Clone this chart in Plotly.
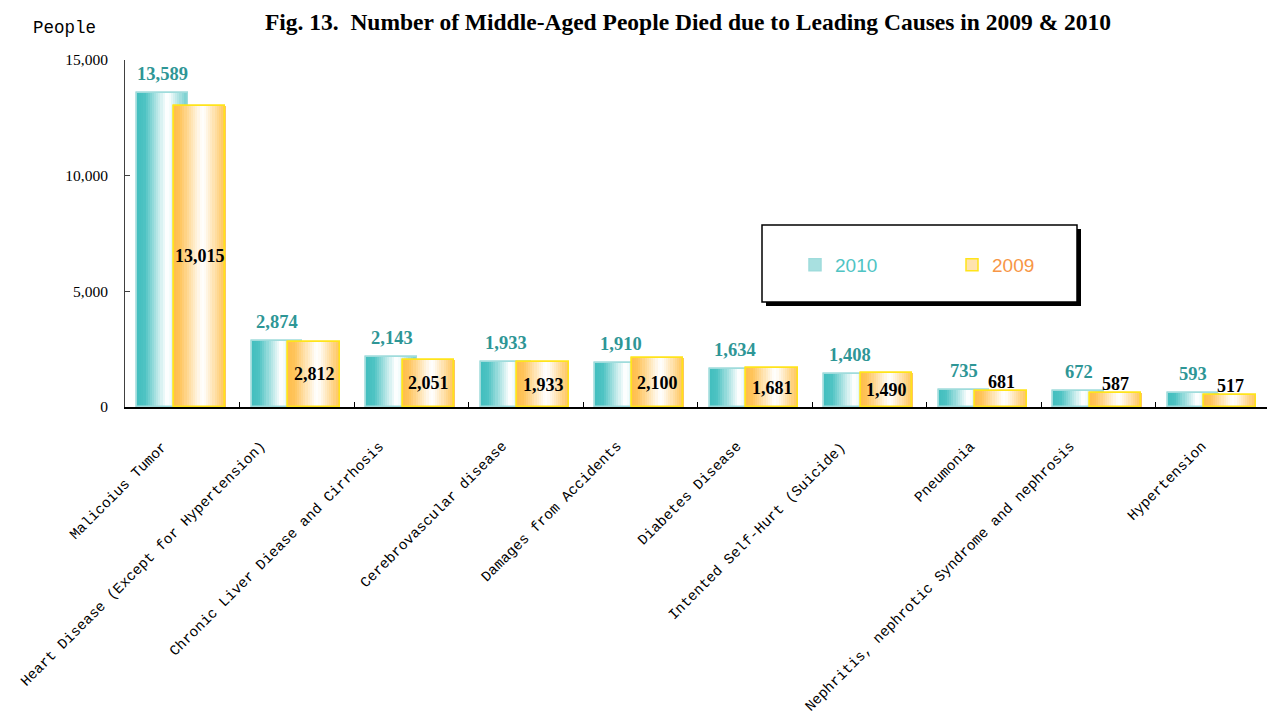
import plotly.graph_objects as go

categories = [
    "Malicoius Tumor",
    "Heart Disease (Except for Hypertension)",
    "Chronic Liver Diease and Cirrhosis",
    "Cerebrovascular disease",
    "Damages from Accidents",
    "Diabetes Disease",
    "Intented Self-Hurt (Suicide)",
    "Pneumonia",
    "Nephritis, nephrotic Syndrome and nephrosis",
    "Hypertension",
]
deaths_2010 = [13589, 2874, 2143, 1933, 1910, 1634, 1408, 735, 672, 593]
deaths_2009 = [13015, 2812, 2051, 1933, 2100, 1681, 1490, 681, 587, 517]
y_ticks = [0, 5000, 10000, 15000]

# layout style: horizontal pixel shift of each rotated category label (as in the original)
label_xshift = [-19, -35, -31, -23, -23, -18, -27, -12, -28, -10]

# The page body has an 8px default margin; figure coords = screen coords - 8
PAGE = 8
W, H = 1275 - PAGE, 713 - PAGE
X0, X1 = 125, 1270          # screen x of plot area
Y0, Y1 = 60, 407            # screen y of plot area (top, bottom)
L, T = X0 - PAGE, Y0 - PAGE
R = W - (X1 - PAGE)
B = H - (Y1 - PAGE)
plot_w = X1 - X0
plot_h = Y1 - Y0

xpos = list(range(len(categories)))

def lerp(c1, c2, f):
    return tuple(c1[i] + (c2[i] - c1[i]) * f for i in range(3))

def grad(stops, t):
    for (t0, c0), (t1, c1) in zip(stops, stops[1:]):
        if t0 <= t <= t1:
            f = (t - t0) / (t1 - t0) if t1 > t0 else 0
            c = lerp(c0, c1, f)
            return "rgb(%d,%d,%d)" % tuple(round(v) for v in c)
    c = stops[-1][1]
    return "rgb(%d,%d,%d)" % c

teal_stops = [(0.0, (66, 190, 190)), (0.15, (78, 195, 195)), (0.57, (255, 255, 255)),
              (0.63, (250, 254, 254)), (1.0, (104, 202, 202))]
orange_stops = [(0.0, (255, 190, 76)), (0.12, (255, 196, 90)), (0.54, (255, 255, 255)),
                (0.6, (255, 252, 246)), (1.0, (255, 194, 84))]

series = [
    dict(name="2010", vals=deaths_2010, off=-0.395, w=0.445, stops=teal_stops,
         border="#9FDCDC", legend_fill="#A8E0E0", legend_txt="#4FC4C4"),
    dict(name="2009", vals=deaths_2009, off=-0.075, w=0.452, stops=orange_stops,
         border="#FFE41A", legend_fill="#FFE2AE", legend_txt="#F79646"),
]

N = 24
fig = go.Figure()
for s in series:
    # base bar (carries legend entry)
    fig.add_trace(go.Bar(
        x=xpos, y=s["vals"], width=s["w"], offset=s["off"],
        marker=dict(color=s["legend_fill"], line=dict(color=s["border"], width=1.5)),
        name="<span style='color:%s'>%s</span>" % (s["legend_txt"], s["name"]),
        hoverinfo="skip", showlegend=True,
    ))
    dw = s["w"] / N
    for k in range(N):
        t = (k + 0.5) / N
        fig.add_trace(go.Bar(
            x=xpos, y=s["vals"], width=dw * 1.15, offset=s["off"] + k * dw,
            marker=dict(color=grad(s["stops"], t), line=dict(width=0)),
            hoverinfo="skip", showlegend=False,
        ))
    fig.add_trace(go.Bar(
        x=xpos, y=s["vals"], width=s["w"], offset=s["off"],
        marker=dict(color="rgba(0,0,0,0)", line=dict(color=s["border"], width=1.5)),
        hoverinfo="skip", showlegend=False,
    ))

annotations = []
s10, s09 = series
for i, v in enumerate(deaths_2010):
    annotations.append(dict(
        x=i + s10["off"] + s10["w"] / 2, y=v, xref="x", yref="y",
        text=f"{v:,}", showarrow=False, yanchor="middle", yshift=19,
        font=dict(family="Liberation Serif", size=18.5, color="#2E9696", weight="bold"),
    ))
for i, v in enumerate(deaths_2009):
    if v >= 1000:
        yv, ya, ys = v / 2, "middle", 0
    else:
        yv, ya, ys = v, "bottom", -3
    annotations.append(dict(
        x=i + s09["off"] + s09["w"] / 2, y=yv, xref="x", yref="y",
        text=f"{v:,}", showarrow=False, yanchor=ya, yshift=ys,
        font=dict(family="Liberation Serif", size=18, color="black", weight="bold"),
    ))

# rotated category labels
for i, cat in enumerate(categories):
    annotations.append(dict(
        x=i, y=0, xref="x", yref="y",
        text=cat, showarrow=False, textangle=-45,
        xanchor="right", yanchor="top",
        xshift=label_xshift[i] + 10, yshift=-29,
        font=dict(family="Liberation Mono", size=14.5, color="black"),
    ))

def px2paper(x, y):
    """screen pixel -> paper coordinates"""
    return (x - X0) / plot_w, (Y1 - y) / plot_h

# "People" unit label
px, py = px2paper(31, 28)
annotations.append(dict(
    x=px, y=py, xref="paper", yref="paper",
    text="People", showarrow=False, xanchor="left", yanchor="middle",
    font=dict(family="Liberation Mono", size=17.5, color="black"),
))

lx0, ly0 = px2paper(762, 225)
lx1, ly1 = px2paper(1077, 302)
sx0, sy0 = px2paper(766, 229)
sx1, sy1 = px2paper(1081, 306)
shapes = [
    dict(type="rect", xref="paper", yref="paper", x0=sx0, x1=sx1, y0=sy0, y1=sy1,
         fillcolor="black", line=dict(width=0), layer="below"),
    dict(type="rect", xref="paper", yref="paper", x0=lx0, x1=lx1, y0=ly0, y1=ly1,
         fillcolor="white", line=dict(color="black", width=1.5), layer="below"),
]

# ticks at category boundaries
tickvals = [i - 0.5 for i in range(len(categories) + 1)]

leg_x, leg_y = px2paper(795, 265)

fig.update_layout(
    width=W, height=H,
    margin=dict(l=L, r=R, t=T, b=B, autoexpand=False),
    paper_bgcolor="white", plot_bgcolor="white",
    barmode="overlay",
    bargap=0,
    title=dict(
        text="Fig. 13.  Number of Middle-Aged People Died due to Leading Causes in 2009 &amp; 2010",
        x=(688 - PAGE) / W, xanchor="center", y=1 - (21.5 - PAGE) / H, yanchor="middle",
        font=dict(family="Liberation Serif", size=23.5, color="black", weight="bold"),
    ),
    xaxis=dict(
        range=[-0.5, len(categories) - 0.5],
        tickvals=tickvals, showticklabels=False,
        ticks="inside", ticklen=5, tickcolor="black",
        showline=True, linecolor="black", linewidth=1.5,
        showgrid=False, zeroline=False, automargin=False,
    ),
    yaxis=dict(
        range=[0, 15000], tickvals=y_ticks, tickformat=",",
        ticks="inside", ticklen=5, tickcolor="#404040",
        showline=True, linecolor="#404040", linewidth=1,
        showgrid=False, zeroline=False, automargin=False,
        tickfont=dict(family="Liberation Serif", size=15.5, color="black"),
        ticklabelstandoff=13,
    ),
    legend=dict(
        orientation="h", x=leg_x, y=leg_y, xanchor="left", yanchor="middle",
        bgcolor="rgba(0,0,0,0)", borderwidth=0,
        entrywidth=112, entrywidthmode="pixels",
        font=dict(family="Liberation Sans", size=19),
        itemclick=False, itemdoubleclick=False,
    ),
    annotations=annotations,
    shapes=shapes,
    showlegend=True,
)

fig.write_html("out.html")
